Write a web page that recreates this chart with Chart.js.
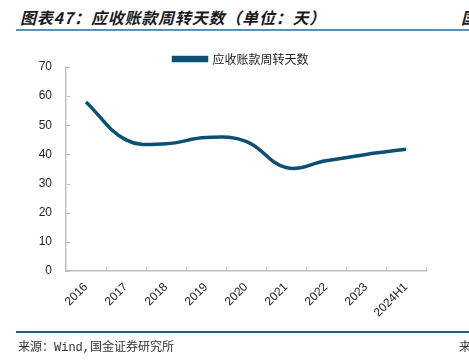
<!DOCTYPE html>
<html lang="zh">
<head>
  <meta charset="UTF-8">
  <title>应收账款周转天数</title>
  <style>
    body, html {
      width: 469px;
      height: 363px;
      margin: 0;
      background: #ffffff;
      overflow: hidden;
      position: relative;
    }
    .title {
      position: absolute;
      left: 20px;
      top: 5px;
      font: italic bold 16px "Noto Sans CJK SC", sans-serif;
      letter-spacing: 0.8px;
      color: #1a1a1a;
      white-space: nowrap;
    }
    .title.right { left: 461px; }
    .rule-top {
      position: absolute; left: 16px; right: 0; top: 29px;
      height: 2px; background: #5a93ad;
    }
    .rule-bottom {
      position: absolute; left: 16px; right: 0; top: 331px;
      height: 2px; background: #1f5e8c;
    }
    .source {
      position: absolute; left: 18px; top: 337px;
      font: 12px "Liberation Mono", "Noto Sans CJK SC", monospace;
      color: #333;
      white-space: nowrap;
    }
    .source.right { left: 459px; }
    #chart-container {
      position: absolute; left: 0; top: 0;
      width: 469px; height: 363px;
    }
  </style>
</head>
<body>
  <div class="title">图表47：应收账款周转天数（单位：天）</div>
  <div class="title right">国金证券</div>
  <div class="rule-top"></div>
  <div id="chart-container">
    <canvas id="turnoverChart" width="469" height="363"></canvas>
  </div>
  <div class="rule-bottom"></div>
  <div class="source">来源：Wind,国金证券研究所</div>
  <div class="source right">来源</div>

  <script src="https://cdn.jsdelivr.net/npm/chart.js"></script>
  <script>
    const years = ['2016', '2017', '2018', '2019', '2020', '2021', '2022', '2023', '2024H1'];
    const turnoverDays = [58, 45, 43.7, 45.8, 44.5, 35.5, 37.8, 40, 41.8];
    const seriesName = '应收账款周转天数';

    const lineColor = '#0b4f73';
    const axisColor = '#bfbfbf';

    // small inward tick marks like the original
    const innerTicks = {
      id: 'innerTicks',
      afterDraw(chart) {
        const ctx = chart.ctx;
        const x = chart.scales.x, y = chart.scales.y;
        ctx.save();
        ctx.strokeStyle = axisColor;
        ctx.lineWidth = 1;
        y.ticks.forEach(t => {
          const py = Math.round(y.getPixelForValue(t.value)) + 0.5;
          ctx.beginPath();
          ctx.moveTo(x.left, py);
          ctx.lineTo(x.left + 4, py);
          ctx.stroke();
        });
        for (let i = 1; i <= years.length; i++) {
          const px = Math.round(x.getPixelForValue(i - 0.5)) + 0.5;
          ctx.beginPath();
          ctx.moveTo(px, y.bottom);
          ctx.lineTo(px, y.bottom - 4);
          ctx.stroke();
        }
        ctx.restore();
      }
    };

    // legend sits a bit right of and lower than the default spot
    const shiftLegend = {
      id: 'shiftLegend',
      afterLayout(chart) {
        const lg = chart.legend;
        lg.left += 28; lg.right += 28;
        lg.top += 8; lg.bottom += 8;
      }
    };

    const ctx = document.getElementById('turnoverChart').getContext('2d');
    new Chart(ctx, {
      type: 'line',
      data: {
        labels: years,
        datasets: [{
          label: seriesName,
          data: turnoverDays,
          borderColor: lineColor,
          backgroundColor: lineColor,
          borderWidth: 3.5,
          pointRadius: 0,
          tension: 0.4,
          fill: false
        }]
      },
      options: {
        responsive: false,
        animation: false,
        layout: {
          padding: { left: 0, right: 43, top: 41, bottom: 0 }
        },
        scales: {
          x: {
            offset: true,
            afterFit: s => { s.height = 92; },
            grid: { display: false, drawTicks: false, offset: true },
            border: { display: true, color: axisColor, width: 1.5 },
            ticks: {
              color: '#222',
              font: { family: 'Liberation Sans', size: 12 },
              minRotation: 45,
              maxRotation: 45,
              padding: 9,
              autoSkip: false
            }
          },
          y: {
            min: 0,
            max: 70,
            afterFit: s => { s.width = 66; },
            grid: { display: false, drawTicks: false },
            border: { display: true, color: axisColor, width: 1.5 },
            ticks: {
              stepSize: 10,
              color: '#222',
              font: { family: 'Liberation Sans', size: 12 },
              padding: 14
            }
          }
        },
        plugins: {
          legend: {
            labels: {
              boxWidth: 33,
              boxHeight: 3,
              padding: 4,
              color: '#222',
              font: { family: 'Noto Sans CJK SC', size: 12 }
            }
          },
          tooltip: { enabled: false }
        }
      },
      plugins: [innerTicks, shiftLegend]
    });
  </script>
</body>
</html>
